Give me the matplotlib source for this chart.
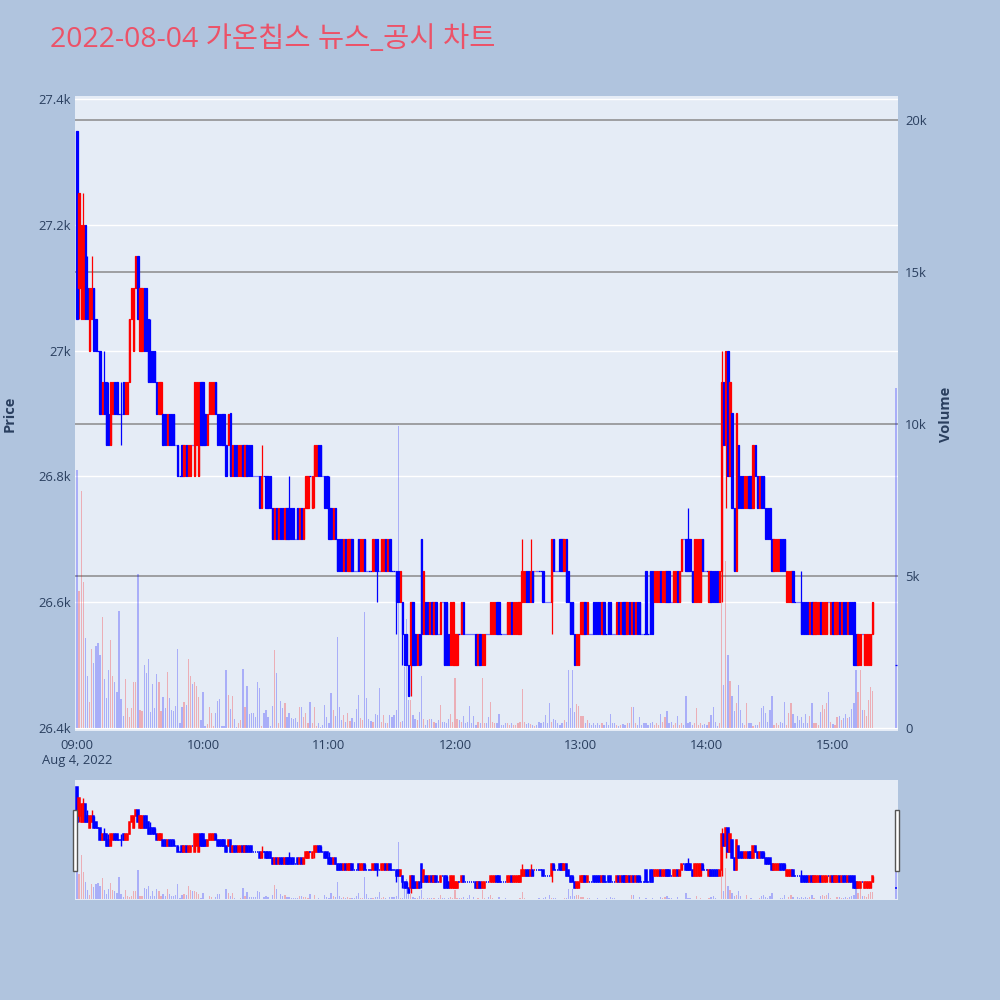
import matplotlib
matplotlib.use('Agg')
import matplotlib.pyplot as plt
from matplotlib.transforms import blended_transform_factory
from matplotlib.patches import Rectangle

BG = '#B0C4DE'
PLOT_BG = '#E5ECF6'
UP = '#FF0000'
DOWN = '#0000FF'
TXT = '#2a3f5f'

# minutes after 09:00
minute_offsets = list(range(380)) + [390]

opens = [
    27350,27100,27050,27050,27200,27100,27000,27050,27100,27050,
    27000,27000,26900,26950,26950,26900,26850,26900,26950,26950,
    26900,26900,26950,26900,26900,26950,27050,27000,27100,27150,
    27000,27000,27100,27100,27050,27000,27000,27000,26950,26900,
    26900,26900,26900,26850,26900,26900,26900,26850,26850,26800,
    26850,26800,26850,26800,26800,26850,26800,26850,26800,26950,
    26950,26900,26850,26900,26900,26900,26950,26900,26900,26900,
    26900,26850,26850,26900,26800,26850,26850,26800,26800,26850,
    26800,26850,26850,26850,26800,26800,26800,26800,26750,26800,
    26800,26800,26800,26750,26700,26750,26700,26750,26750,26700,
    26750,26750,26750,26750,26700,26750,26700,26750,26700,26750,
    26750,26800,26750,26800,26800,26850,26850,26800,26800,26800,
    26750,26750,26700,26750,26700,26700,26700,26650,26700,26650,
    26650,26700,26650,26650,26700,26650,26650,26700,26650,26650,
    26650,26650,26700,26700,26650,26650,26650,26700,26650,26700,
    26650,26650,26650,26650,26600,26600,26550,26550,26500,26500,
    26600,26550,26500,26550,26700,26550,26600,26600,26550,26600,
    26550,26600,26550,26550,26600,26600,26600,26550,26500,26500,
    26500,26500,26550,26550,26600,26550,26550,26550,26550,26550,
    26550,26500,26550,26500,26500,26550,26550,26550,26550,26550,
    26600,26600,26550,26550,26550,26550,26550,26600,26550,26550,
    26550,26550,26600,26600,26650,26650,26600,26650,26650,26650,
    26650,26650,26650,26600,26600,26600,26600,26700,26650,26650,
    26700,26700,26650,26700,26650,26600,26600,26550,26500,26500,
    26550,26550,26600,26550,26550,26550,26600,26600,26600,26600,
    26550,26600,26550,26600,26600,26550,26550,26550,26600,26550,
    26600,26600,26550,26600,26550,26600,26550,26600,26600,26550,
    26550,26650,26550,26650,26650,26600,26600,26600,26650,26600,
    26600,26650,26650,26600,26600,26600,26650,26600,26650,26700,
    26700,26700,26700,26650,26600,26600,26600,26600,26700,26650,
    26650,26600,26650,26650,26650,26650,26600,26650,26950,26850,
    27000,26800,26900,26750,26650,26850,26800,26800,26750,26750,
    26800,26800,26750,26850,26800,26750,26800,26800,26750,26750,
    26750,26700,26650,26650,26650,26700,26700,26700,26600,26600,
    26600,26650,26600,26600,26600,26600,26600,26600,26600,26550,
    26600,26550,26550,26550,26600,26550,26550,26550,26600,26550,
    26600,26550,26550,26600,26550,26600,26600,26550,26600,26600,
    26600,26550,26500,26500,26550,26500,26500,26500,26500,26550,
    26500,
]

closes = [
    27050,27250,27200,27200,27050,27050,27100,27100,27000,27000,
    27000,26900,26950,26900,26850,26850,26950,26950,26900,26900,
    26900,26900,26900,26950,26950,27050,27100,27100,27150,27050,
    27100,27100,27000,27000,26950,26950,26950,26950,26900,26950,
    26950,26850,26850,26900,26850,26850,26850,26850,26800,26800,
    26800,26850,26800,26850,26850,26850,26950,26950,26950,26850,
    26850,26850,26900,26950,26950,26950,26900,26850,26850,26850,
    26850,26800,26900,26800,26850,26800,26800,26850,26850,26800,
    26850,26800,26800,26800,26800,26800,26800,26750,26800,26800,
    26750,26750,26750,26700,26750,26700,26750,26700,26700,26750,
    26700,26700,26700,26700,26700,26700,26750,26700,26750,26800,
    26800,26800,26800,26850,26850,26800,26800,26800,26750,26750,
    26700,26700,26750,26700,26650,26650,26650,26700,26650,26700,
    26700,26650,26650,26650,26650,26700,26700,26650,26650,26650,
    26650,26700,26650,26650,26650,26700,26700,26650,26700,26650,
    26650,26650,26600,26600,26650,26550,26500,26500,26450,26600,
    26500,26500,26550,26500,26550,26650,26550,26550,26600,26550,
    26600,26550,26550,26600,26600,26500,26500,26500,26600,26600,
    26550,26550,26550,26600,26550,26550,26550,26550,26550,26550,
    26500,26550,26500,26550,26550,26550,26550,26600,26600,26600,
    26550,26550,26550,26550,26550,26600,26600,26550,26600,26600,
    26600,26600,26650,26650,26600,26600,26650,26600,26650,26650,
    26650,26650,26600,26600,26600,26600,26700,26650,26650,26650,
    26650,26650,26700,26600,26600,26550,26550,26500,26550,26550,
    26600,26600,26550,26600,26550,26550,26550,26550,26550,26550,
    26600,26550,26550,26550,26550,26550,26550,26600,26550,26600,
    26550,26550,26600,26550,26600,26550,26600,26550,26550,26550,
    26550,26550,26550,26550,26550,26650,26650,26650,26600,26650,
    26650,26600,26600,26600,26650,26650,26600,26650,26700,26700,
    26650,26650,26650,26600,26700,26700,26700,26700,26650,26650,
    26650,26650,26600,26600,26600,26600,26650,26950,26850,27000,
    26800,26950,26750,26650,26900,26750,26750,26750,26800,26800,
    26750,26750,26850,26800,26750,26800,26750,26750,26700,26700,
    26700,26650,26700,26700,26700,26650,26650,26650,26650,26650,
    26650,26600,26600,26600,26600,26550,26550,26550,26550,26600,
    26550,26600,26600,26600,26550,26600,26600,26600,26600,26600,
    26550,26600,26600,26550,26600,26550,26550,26600,26550,26550,
    26500,26500,26550,26550,26550,26550,26550,26550,26550,26600,
    26500,
]

# wick extremes beyond the candle body (minute index -> price)
wick_high = {3: 27250, 5: 27150, 7: 27150, 13: 27000, 15: 26950, 21: 26950,
             35: 27050, 88: 26850, 101: 26800, 120: 26800, 212: 26700,
             216: 26700, 291: 26750, 307: 27000, 345: 26650}
wick_low = {1: 27050, 21: 26850, 113: 26750, 143: 26600, 152: 26550,
            155: 26500, 159: 26450, 164: 26500, 226: 26550, 307: 26600,
            309: 26750}

volumes = [
    8500,4500,7800,4800,2950,1700,850,2600,2150,2700,
    2800,2400,3650,1600,1000,1900,2900,1700,1500,1200,
    3850,950,400,1600,670,360,650,1500,1500,5070,
    600,570,2070,1820,2270,540,1450,650,1770,1500,
    570,1030,670,1850,1000,600,560,720,2600,180,
    700,870,760,2270,1700,1450,1500,1380,1030,270,
    1200,50,130,680,490,70,500,900,950,70,
    60,1900,1080,620,1050,300,30,150,270,1950,
    680,1380,450,490,490,360,1500,1320,70,490,
    600,350,50,720,2550,1820,150,900,650,810,
    370,480,330,310,320,200,680,680,350,500,
    180,860,150,700,70,180,40,100,760,350,
    180,1160,590,400,2980,680,260,430,200,500,
    240,320,200,610,1090,320,260,3830,1000,290,
    230,200,460,420,1330,200,430,180,150,430,
    370,430,590,9950,200,230,2000,3600,920,920,
    430,300,250,540,1700,300,100,250,300,300,
    200,150,250,760,200,200,150,300,460,200,
    1640,300,260,200,400,150,200,720,150,400,
    100,200,150,1640,180,150,370,840,200,150,
    150,460,100,100,180,150,100,150,100,100,
    150,200,1270,200,120,150,120,100,70,100,
    200,150,200,430,150,810,200,290,260,150,
    100,150,260,200,1900,650,1900,540,800,720,
    400,400,150,260,180,100,150,100,180,100,
    150,100,200,100,460,180,180,100,70,100,
    120,100,150,150,700,700,150,100,370,100,
    150,180,100,150,200,100,150,100,460,200,
    370,570,180,200,100,150,400,100,150,100,
    1050,180,200,100,150,650,100,180,100,130,
    100,200,430,680,200,70,150,5600,1400,5500,
    2400,1560,1050,560,810,1400,590,150,100,810,
    150,180,70,100,100,200,650,720,480,200,
    590,1050,100,150,100,200,180,840,100,480,
    810,460,150,400,260,350,180,460,180,400,
    810,180,150,100,540,760,610,810,1200,200,
    130,100,370,400,260,320,460,330,370,610,
    810,1900,1200,1900,590,590,400,920,1340,1230,
    11200,
]

hour_ticks = [0, 60, 120, 180, 240, 300, 360]
hour_labels = ['09:00\nAug 4, 2022', '10:00', '11:00', '12:00', '13:00', '14:00', '15:00']
price_ticks = [26400, 26600, 26800, 27000, 27200, 27400]
price_labels = ['26.4k', '26.6k', '26.8k', '27k', '27.2k', '27.4k']
vol_ticks = [0, 5000, 10000, 15000, 20000]
vol_labels = ['0', '5k', '10k', '15k', '20k']

PRICE_RANGE = (26395, 27405)
VOL_RANGE = (-99, 20790)
X_RANGE = (-0.95, 391.0)

# direction like plotly: compare close/open, ties decided vs previous close
increasing = []
prev_close = None
for o, c in zip(opens, closes):
    if c > o:
        inc = True
    elif c < o:
        inc = False
    else:
        inc = prev_close is not None and c > prev_close
    increasing.append(inc)
    prev_close = c
highs = [max(o, c, wick_high.get(i, 0)) for i, (o, c) in enumerate(zip(opens, closes))]
lows = [min(o, c, wick_low.get(i, 10**9)) for i, (o, c) in enumerate(zip(opens, closes))]
colors = [UP if inc else DOWN for inc in increasing]
vcolors = [(1, 0, 0, 0.26) if inc else (0, 0, 1, 0.26) for inc in increasing]

plt.rcParams['font.family'] = ['Open Sans', 'Noto Sans CJK KR', 'DejaVu Sans']

fig = plt.figure(figsize=(10, 10), dpi=100, facecolor=BG)


def make_axes(rect):
    ax_p = fig.add_axes(rect)
    ax_v = ax_p.twinx()
    ax_v.set_zorder(1)
    ax_p.set_zorder(2)
    ax_p.patch.set_visible(False)
    ax_v.patch.set_visible(True)
    ax_v.patch.set_facecolor(PLOT_BG)
    for a in (ax_p, ax_v):
        for s in a.spines.values():
            s.set_visible(False)
    ax_p.set_xlim(*X_RANGE)
    ax_p.set_ylim(*PRICE_RANGE)
    ax_v.set_ylim(*VOL_RANGE)
    return ax_p, ax_v


def draw(ax_p, ax_v, body_w, lw, wick_lw, vol_w):
    ax_v.bar(minute_offsets, volumes, width=vol_w, color=vcolors, linewidth=0, zorder=2)
    ax_p.vlines(minute_offsets, lows, highs, colors=colors, linewidth=wick_lw, zorder=3)
    bottoms = [min(o, c) for o, c in zip(opens, closes)]
    heights = [abs(c - o) for o, c in zip(opens, closes)]
    ax_p.bar(minute_offsets, heights, bottom=bottoms, width=body_w, color=colors,
             edgecolor=colors, linewidth=lw, zorder=4)


# main chart
L, R = 75, 898
ax_p, ax_v = make_axes([L / 1000, 1 - 731 / 1000, (R - L) / 1000, (731 - 96) / 1000])
blend = blended_transform_factory(ax_v.transAxes, ax_p.transData)
for p in price_ticks:
    ax_v.plot([0, 1], [p, p], transform=blend, color='white', linewidth=1, zorder=0.5)
for v in vol_ticks[1:]:
    ax_v.axhline(v, color='#8a8a8a', linewidth=1.1, zorder=0.6)
draw(ax_p, ax_v, body_w=0.62, lw=0.9, wick_lw=0.9, vol_w=0.6)

ax_p.set_yticks(price_ticks)
ax_p.set_yticklabels(price_labels)
ax_v.set_yticks(vol_ticks)
ax_v.set_yticklabels(vol_labels)
ax_p.set_xticks(hour_ticks)
ax_p.set_xticklabels(hour_labels)
ax_p.tick_params(axis='both', length=0, labelsize=9.4, labelcolor=TXT)
ax_p.tick_params(axis='y', pad=3)
ax_p.tick_params(axis='x', pad=6)
ax_v.tick_params(axis='y', length=0, labelsize=9.4, labelcolor=TXT, pad=5)
ax_v.tick_params(axis='x', bottom=False, labelbottom=False)

fig.text(0.010, 1 - 414 / 1000, 'Price', rotation=90, ha='center', va='center',
         fontsize=10.5, fontweight='bold', color=TXT)
fig.text(0.946, 1 - 414 / 1000, 'Volume', rotation=90, ha='center', va='center',
         fontsize=10.5, fontweight='bold', color=TXT)
fig.text(50 / 1000, 1 - 40 / 1000, '2022-08-04 가온칩스 뉴스_공시 차트', ha='left', va='center',
         fontsize=20.5, color='#EC5268')

# range slider
ax_rp, ax_rv = make_axes([L / 1000, 1 - 900 / 1000, (R - L) / 1000, 120 / 1000])
draw(ax_rp, ax_rv, body_w=0.62, lw=1.1, wick_lw=1.0, vol_w=0.6)
for a in (ax_rp, ax_rv):
    a.set_xticks([])
    a.set_yticks([])
for hx in (73, 895):
    fig.patches.append(Rectangle((hx / 1000, 1 - 871 / 1000), 4 / 1000, 61 / 1000,
                                 transform=fig.transFigure, facecolor='white',
                                 edgecolor='#555555', linewidth=1, zorder=10))

fig.savefig('out.png', dpi=100, facecolor=BG)
